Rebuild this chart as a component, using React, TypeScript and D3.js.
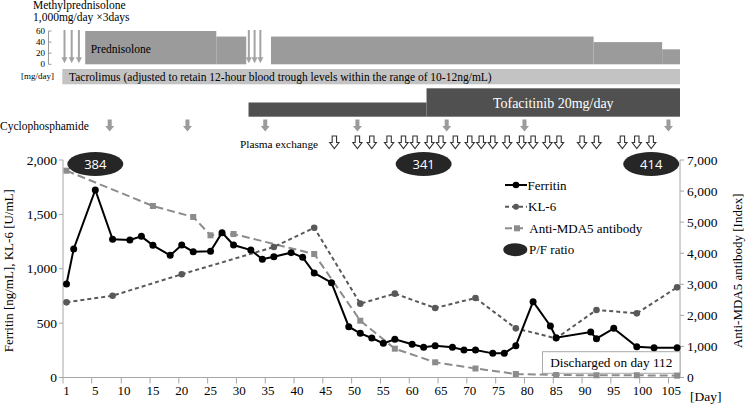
import { useEffect, useRef } from "react";
import * as d3 from "d3";

// day labels on the x axis
const tickDays = [1, 5, 10, 15, 20, 25, 30, 35, 40, 45, 50, 55, 60, 65, 70, 75, 80, 85, 90, 95, 100, 105];
const leftTicks = [0, 500, 1000, 1500, 2000];
const rightTicks = [0, 1000, 2000, 3000, 4000, 5000, 6000, 7000];
const doseTicks = [0, 20, 40, 60];

const ferritinDays = [1, 2, 5, 8, 11, 13, 15, 18, 20, 22, 25, 27, 29, 32, 34, 36, 39, 41, 43, 46, 49, 51, 53, 55, 57, 60, 62, 64, 67, 69, 71, 74, 76, 78, 81, 84, 85, 91, 92, 95, 99, 102, 106];
const ferritin = [860, 1182, 1724, 1271, 1264, 1298, 1215, 1123, 1218, 1157, 1160, 1332, 1218, 1172, 1087, 1111, 1148, 1105, 961, 872, 467, 406, 363, 314, 351, 305, 278, 293, 278, 253, 253, 222, 222, 293, 697, 474, 366, 418, 357, 452, 283, 274, 274];

const kl6Days = [1, 8, 20, 36, 43, 51, 57, 64, 71, 78, 85, 92, 99, 106];
const kl6 = [691, 752, 949, 1200, 1377, 679, 771, 639, 731, 452, 360, 621, 590, 829];

const mda5Days = [1, 15, 22, 25, 29, 43, 51, 57, 64, 71, 78, 85, 92, 99, 106];
const mda5 = [6656, 5519, 5166, 4576, 4618, 3975, 1828, 927, 489, 290, 113, 80, 71, 71, 60];

const pfDays = [5, 62, 101.5];
const pfRatio = [384, 341, 414];

// treatments
const mpPulseDays = [1, 2, 3, 32, 33, 34];
const predStart = [3.6, 26, 35.5, 91.5, 103.4];
const predEnd = [26, 31.2, 91.5, 103.4, 106.5];
const predDose = [60, 50, 50, 40, 27];
const tofaStart = [31.6, 62.5];
const tofaEnd = [62.5, 106.5];
const tofaDose = [10, 20];
const cyclophosphamideDays = [7.5, 21, 34.5, 50.5, 66, 79.5, 104.5];
const plasmaDays = [46.5, 50.5, 53, 56, 58.5, 60.5, 63, 65, 67.5, 70, 72, 74, 76.5, 79, 81, 83.5, 85.5, 89.5, 92, 96.5, 99, 101.5];

const serif = "'Liberation Serif', 'Times New Roman', serif";

export default function App() {
  const ref = useRef<SVGSVGElement | null>(null);

  useEffect(() => {
    document.body.style.margin = "0";
    const svg = d3.select(ref.current);
    svg.selectAll("*").remove();

    const x = d3.scaleLinear().domain([0.5, 1, 5, 106.5]).range([63, 66.5, 95.3, 680]);
    const yLeft = d3.scaleLinear().domain([0, 2000]).range([377.5, 160]);
    const yRight = d3.scaleLinear().domain([0, 7000]).range([377.5, 160]);
    const yDose = d3.scaleLinear().domain([0, 60]).range([64.3, 31]);
    const yTofa = d3.scaleLinear().domain([0, 20]).range([116.7, 88.3]);

    const g = svg.append("g").attr("font-family", serif);

    // ---- top panel ----
    g.append("text").attr("x", 33).attr("y", 9).attr("font-size", 11.5).text("Methylprednisolone");
    g.append("text").attr("x", 33).attr("y", 20.7).attr("font-size", 11.5).text("1,000mg/day \u00d73days");

    g.append("line")
      .attr("x1", 48.5).attr("x2", 48.5)
      .attr("y1", yDose(60)).attr("y2", yDose(0))
      .attr("stroke", "#999");
    doseTicks.forEach((t) => {
      g.append("line")
        .attr("x1", 48.5).attr("x2", 51.5)
        .attr("y1", yDose(t)).attr("y2", yDose(t))
        .attr("stroke", "#999");
      g.append("text")
        .attr("x", 45).attr("y", yDose(t)).attr("dy", "0.35em")
        .attr("text-anchor", "end").attr("font-size", 9)
        .text(t);
    });
    g.append("text").attr("x", 21).attr("y", 79).attr("font-size", 9).text("[mg/day]");

    g.selectAll("rect.pred")
      .data(predDose)
      .enter()
      .append("rect")
      .attr("x", (d, i) => x(predStart[i]))
      .attr("width", (d, i) => x(predEnd[i]) - x(predStart[i]))
      .attr("y", (d) => yDose(d))
      .attr("height", (d) => yDose(0) - yDose(d))
      .attr("fill", "#9b9b9b");
    g.append("text").attr("x", 90.7).attr("y", 52.5).attr("font-size", 11.5).text("Prednisolone");

    mpPulseDays.forEach((d) => {
      const cx = x(d) - 2;
      g.append("line")
        .attr("x1", cx).attr("x2", cx)
        .attr("y1", yDose(60) - 1).attr("y2", yDose(0) - 5)
        .attr("stroke", "#a3a3a3").attr("stroke-width", 2);
      g.append("path")
        .attr("d", `M${cx - 3},${yDose(0) - 7}L${cx + 3},${yDose(0) - 7}L${cx},${yDose(0) - 1}Z`)
        .attr("fill", "#a3a3a3");
    });

    g.append("rect")
      .attr("x", x(0.5) - 0.7).attr("width", x(106.5) - x(0.5) + 0.7)
      .attr("y", 69).attr("height", 15.3)
      .attr("fill", "#c3c3c3");
    g.append("text")
      .attr("x", 69).attr("y", 80.6).attr("font-size", 11.5)
      .text("Tacrolimus (adjusted to retain 12-hour blood trough levels within the range of 10-12ng/mL)");

    g.selectAll("rect.tofa")
      .data(tofaDose)
      .enter()
      .append("rect")
      .attr("x", (d, i) => x(tofaStart[i]))
      .attr("width", (d, i) => x(tofaEnd[i]) - x(tofaStart[i]))
      .attr("y", (d) => yTofa(d))
      .attr("height", (d) => yTofa(0) - yTofa(d))
      .attr("fill", "#505050");
    g.append("text")
      .attr("x", (x(tofaStart[1]) + x(tofaEnd[1])) / 2).attr("y", 108.3)
      .attr("text-anchor", "middle").attr("font-size", 14).attr("fill", "#fff")
      .text("Tofacitinib 20mg/day");

    g.append("text").attr("x", 0).attr("y", 130).attr("font-size", 11.5).text("Cyclophosphamide");
    g.selectAll("path.cy")
      .data(cyclophosphamideDays)
      .enter()
      .append("path")
      .attr("d", (d) => {
        const cx = x(d);
        return `M${cx - 2},119.5L${cx + 2},119.5L${cx + 2},126L${cx + 4.5},126L${cx},131.5L${cx - 4.5},126L${cx - 2},126Z`;
      })
      .attr("fill", "#9b9b9b");

    g.append("text").attr("x", 240).attr("y", 148).attr("font-size", 11.3).text("Plasma exchange");
    g.selectAll("path.pe")
      .data(plasmaDays)
      .enter()
      .append("path")
      .attr("d", (d) => {
        const cx = x(d);
        return `M${cx - 2.2},136L${cx + 2.2},136L${cx + 2.2},142.5L${cx + 4.6},142.5L${cx},148.5L${cx - 4.6},142.5L${cx - 2.2},142.5Z`;
      })
      .attr("fill", "#fff").attr("stroke", "#333").attr("stroke-width", 1.1);

    // ---- main chart axes ----
    const axisColor = "#a6a6a6";
    g.append("line").attr("x1", x(0.5)).attr("x2", x(0.5)).attr("y1", yLeft(2000)).attr("y2", yLeft(0)).attr("stroke", axisColor);
    g.append("line").attr("x1", x(106.5)).attr("x2", x(106.5)).attr("y1", yRight(7000)).attr("y2", yRight(0)).attr("stroke", axisColor);
    g.append("line").attr("x1", x(0.5)).attr("x2", x(106.5)).attr("y1", yLeft(0)).attr("y2", yLeft(0)).attr("stroke", axisColor);

    leftTicks.forEach((t) => {
      g.append("line").attr("x1", x(0.5) - 4).attr("x2", x(0.5)).attr("y1", yLeft(t)).attr("y2", yLeft(t)).attr("stroke", axisColor);
      g.append("text")
        .attr("x", x(0.5) - 6).attr("y", yLeft(t)).attr("dy", "0.35em")
        .attr("text-anchor", "end").attr("font-size", 13.5)
        .text(d3.format(",")(t));
    });
    rightTicks.forEach((t) => {
      g.append("line").attr("x1", x(106.5)).attr("x2", x(106.5) + 4).attr("y1", yRight(t)).attr("y2", yRight(t)).attr("stroke", axisColor);
      g.append("text")
        .attr("x", x(106.5) + 7).attr("y", yRight(t)).attr("dy", "0.35em")
        .attr("font-size", 13.5)
        .text(d3.format(",")(t));
    });
    tickDays.forEach((t) => {
      g.append("line").attr("x1", x(t - 0.5)).attr("x2", x(t - 0.5)).attr("y1", yLeft(0)).attr("y2", yLeft(0) + 6).attr("stroke", axisColor);
      g.append("text")
        .attr("x", x(t)).attr("y", 395)
        .attr("text-anchor", "middle").attr("font-size", 13)
        .text(t);
    });
    g.append("text").attr("x", 690).attr("y", 401).attr("font-size", 13.5).text("[Day]");

    g.append("text")
      .attr("transform", `translate(13,${(yLeft(0) + yLeft(2000)) / 2 + 2}) rotate(-90)`)
      .attr("text-anchor", "middle").attr("font-size", 13)
      .text("Ferritin [ng/mL], KL-6 [U/mL]");
    g.append("text")
      .attr("transform", `translate(742,${(yRight(0) + yRight(7000)) / 2 + 2}) rotate(-90)`)
      .attr("text-anchor", "middle").attr("font-size", 13)
      .text("Anti-MDA5 antibody [Index]");

    // discharge note
    g.append("rect")
      .attr("x", 542.5).attr("y", 351.7).attr("width", x(106.5) - 542.5).attr("height", 21.6)
      .attr("fill", "#fff").attr("stroke", "#aaa");
    g.append("text")
      .attr("x", (542.5 + x(106.5)) / 2).attr("y", 366.5)
      .attr("text-anchor", "middle").attr("font-size", 13.3)
      .text("Discharged on day 112");

    // ---- series ----
    const mdaLine = d3.line<number>().x((d, i) => x(mda5Days[i])).y((d) => yRight(d));
    g.append("path").attr("d", mdaLine(mda5)).attr("fill", "none")
      .attr("stroke", "#8c8c8c").attr("stroke-width", 2).attr("stroke-dasharray", "8,4");
    g.selectAll("rect.mda")
      .data(mda5)
      .enter()
      .append("rect")
      .attr("x", (d, i) => x(mda5Days[i]) - 3).attr("y", (d) => yRight(d) - 3)
      .attr("width", 6).attr("height", 6).attr("fill", "#8c8c8c");

    const klLine = d3.line<number>().x((d, i) => x(kl6Days[i])).y((d) => yLeft(d));
    g.append("path").attr("d", klLine(kl6)).attr("fill", "none")
      .attr("stroke", "#595959").attr("stroke-width", 2).attr("stroke-dasharray", "4,3");
    g.selectAll("circle.kl")
      .data(kl6)
      .enter()
      .append("circle")
      .attr("cx", (d, i) => x(kl6Days[i])).attr("cy", (d) => yLeft(d))
      .attr("r", 3.3).attr("fill", "#595959");

    const ferLine = d3.line<number>().x((d, i) => x(ferritinDays[i])).y((d) => yLeft(d));
    g.append("path").attr("d", ferLine(ferritin)).attr("fill", "none")
      .attr("stroke", "#000").attr("stroke-width", 2);
    g.selectAll("circle.fer")
      .data(ferritin)
      .enter()
      .append("circle")
      .attr("cx", (d, i) => x(ferritinDays[i])).attr("cy", (d) => yLeft(d))
      .attr("r", 3.5).attr("fill", "#000");

    // P/F ratio
    pfRatio.forEach((v, i) => {
      g.append("ellipse")
        .attr("cx", x(pfDays[i])).attr("cy", 164)
        .attr("rx", 28).attr("ry", 12).attr("fill", "#262626");
      g.append("text")
        .attr("x", x(pfDays[i])).attr("y", 164).attr("dy", "0.36em")
        .attr("text-anchor", "middle").attr("font-family", "'Open Sans', sans-serif")
        .attr("font-size", 13).attr("fill", "#fff")
        .text(v);
    });

    // legend
    const lg = g.append("g");
    lg.append("line").attr("x1", 505).attr("x2", 527).attr("y1", 185).attr("y2", 185).attr("stroke", "#000").attr("stroke-width", 2);
    lg.append("circle").attr("cx", 516).attr("cy", 185).attr("r", 3.3).attr("fill", "#000");
    lg.append("text").attr("x", 527.5).attr("y", 189.5).attr("font-size", 13).text("Ferritin");

    lg.append("line").attr("x1", 505).attr("x2", 527).attr("y1", 206.7).attr("y2", 206.7).attr("stroke", "#595959").attr("stroke-width", 2).attr("stroke-dasharray", "4,3");
    lg.append("circle").attr("cx", 516).attr("cy", 206.7).attr("r", 3).attr("fill", "#595959");
    lg.append("text").attr("x", 528).attr("y", 211.2).attr("font-size", 13).text("KL-6");

    lg.append("line").attr("x1", 505).attr("x2", 527).attr("y1", 228.3).attr("y2", 228.3).attr("stroke", "#8c8c8c").attr("stroke-width", 2).attr("stroke-dasharray", "7,4");
    lg.append("rect").attr("x", 514).attr("y", 225.3).attr("width", 6).attr("height", 6).attr("fill", "#8c8c8c");
    lg.append("text").attr("x", 529.3).attr("y", 232.8).attr("font-size", 13).text("Anti-MDA5 antibody");

    lg.append("ellipse").attr("cx", 515.3).attr("cy", 249.7).attr("rx", 12).attr("ry", 6.5).attr("fill", "#262626");
    lg.append("text").attr("x", 529).attr("y", 254.2).attr("font-size", 13).text("P/F ratio");
  }, []);

  return <svg ref={ref} width={749} height={404} style={{ display: "block" }} />;
}
